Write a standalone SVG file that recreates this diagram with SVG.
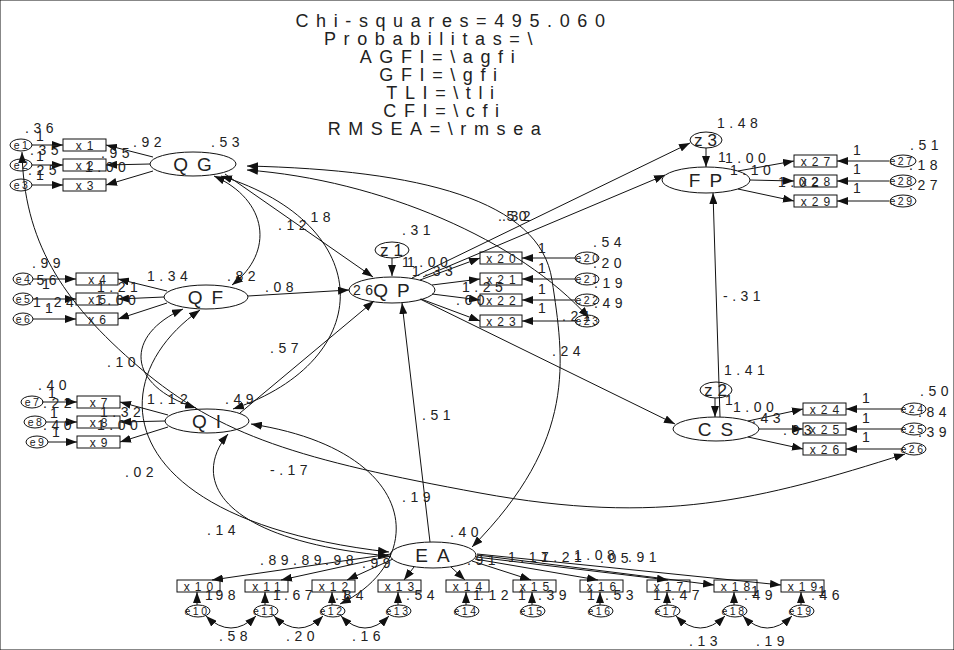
<svg xmlns="http://www.w3.org/2000/svg" width="954" height="650" viewBox="0 0 954 650">
<defs>
<marker id="ah" viewBox="0 0 11 8" refX="11" refY="4" markerWidth="11" markerHeight="8" markerUnits="userSpaceOnUse" orient="auto-start-reverse"><path d="M0,0 L11,4 L0,8 z" fill="#111"/></marker>
<style>
.ln{fill:none;stroke:#111;stroke-width:1}
.a{marker-end:url(#ah)}
.b{marker-start:url(#ah);marker-end:url(#ah)}
ellipse,rect{fill:none;stroke:#111;stroke-width:1}
text{font-family:"Liberation Sans",Arial,sans-serif;fill:#222}
.ti{font-size:18px;letter-spacing:7.6px;text-anchor:middle}
.lt{font-size:19px;letter-spacing:9px;text-anchor:middle}
.zt{font-size:17px;letter-spacing:5px;text-anchor:middle}
.ob{font-size:12px;letter-spacing:5px;text-anchor:middle}
.er{font-size:10.5px;letter-spacing:2.5px;text-anchor:middle}
.lb{font-size:14px;letter-spacing:4.5px}
</style>
</defs>
<rect x="0" y="0" width="954" height="650" fill="#fff" stroke="none"/>
<g id="title">
<text class="ti" x="454" y="27">Chi-squares=495.060</text>
<text class="ti" x="432" y="45">Probabilitas=\</text>
<text class="ti" x="441" y="63">AGFI=\agfi</text>
<text class="ti" x="442" y="81">GFI=\gfi</text>
<text class="ti" x="444" y="99">TLI=\tli</text>
<text class="ti" x="445" y="117">CFI=\cfi</text>
<text class="ti" x="438" y="135">RMSEA=\rmsea</text>
</g>
<g id="connectors" class="ln">
<path class="a" d="M32,145 L63,145"/><path class="a" d="M32,165 L63,165"/><path class="a" d="M32,185 L63,185"/>
<path class="a" d="M153,157 L106,145"/><path class="a" d="M150,164 L106,165"/><path class="a" d="M153,171 L106,185"/>
<path class="a" d="M33,279 L76,279"/><path class="a" d="M33,299 L76,299"/><path class="a" d="M33,319 L76,319"/>
<path class="a" d="M167,291 L118,279"/><path class="a" d="M164,297 L118,299"/><path class="a" d="M167,303 L118,319"/>
<path class="a" d="M42,402 L77,402"/><path class="a" d="M46,422 L77,422"/><path class="a" d="M48,442 L77,442"/>
<path class="a" d="M168,415 L120,402"/><path class="a" d="M165,421 L120,422"/><path class="a" d="M168,427 L120,442"/>
<path class="a" d="M420,280 L480,258"/><path class="a" d="M432,285 L480,279"/><path class="a" d="M432,294 L480,300"/><path class="a" d="M421,299 L480,321"/>
<path class="a" d="M575,258 L522,258"/><path class="a" d="M575,279 L522,279"/><path class="a" d="M575,300 L522,300"/><path class="a" d="M575,321 L522,321"/>
<path class="a" d="M392,258 L392,276"/>
<path class="a" d="M706,148 L706,167"/>
<path class="a" d="M738,171 L794,161"/><path class="a" d="M750,180 L794,181"/><path class="a" d="M738,189 L794,201"/>
<path class="a" d="M889,161 L837,161"/><path class="a" d="M889,181 L837,181"/><path class="a" d="M889,201 L837,201"/>
<path class="a" d="M715,398 L715,417"/>
<path class="a" d="M720,417 L713,193"/>
<path class="a" d="M748,421 L803,409"/><path class="a" d="M759,429 L803,429"/><path class="a" d="M748,437 L803,449"/>
<path class="a" d="M902,409 L846,409"/><path class="a" d="M902,429 L846,429"/><path class="a" d="M902,449 L846,449"/>
<path class="a" d="M225,174 L373,277"/>
<path class="a" d="M248,296 L349,290"/>
<path class="a" d="M240,413 L374,301"/>
<path class="a" d="M430,542 L402,303"/>
<path class="a" d="M420,299 L675,424"/>
<path class="a" d="M423,277 L665,175"/>
<path class="a" d="M412,278 L690,143"/>
<path class="a" d="M391,554 L212,580"/><path class="a" d="M391,556 L281,580"/><path class="a" d="M393,559 L347,580"/><path class="a" d="M414,567 L404,580"/>
<path class="a" d="M451,567 L465,580"/><path class="a" d="M472,561 L531,580"/><path class="a" d="M475,559 L598,580"/><path class="a" d="M476,557 L668,580"/>
<path class="a" d="M477,555 L714,585"/><path class="a" d="M477,554 L781,585"/>
<path class="a" d="M197,605 L197,592"/><path class="a" d="M265,605 L265,592"/><path class="a" d="M332,605 L332,592"/><path class="a" d="M398,605 L398,592"/><path class="a" d="M466,605 L466,592"/>
<path class="a" d="M532,605 L532,592"/><path class="a" d="M600,605 L600,592"/><path class="a" d="M667,605 L667,592"/><path class="a" d="M734,605 L734,592"/><path class="a" d="M801,605 L801,592"/>
<path class="b" d="M206,616 Q231,640 256,616"/><path class="b" d="M274,616 Q299,640 323,616"/><path class="b" d="M341,616 Q365,640 389,616"/>
<path class="b" d="M676,616 Q700,640 725,616"/><path class="b" d="M743,616 Q767,640 792,616"/>
<path class="b" d="M214,176 C268,200 275,252 232,285"/>
<path class="b" d="M221,176 C378,225 378,360 233,409"/>
<path class="b" d="M183,309 C125,335 125,385 196,408"/>
<path class="b" d="M200,310 C100,380 110,520 389,552"/>
<path class="b" d="M228,434 C190,480 220,540 389,556"/>
<path class="b" d="M251,424 C420,450 430,560 340,604"/>
<path class="b" d="M22,152 C24,240 60,300 140,368 S300,460 480,493 S760,500 905,454"/>
<path class="b" d="M247,170 C380,180 520,240 589,318"/>
<path class="b" d="M247,166 C420,170 540,200 552,280 S578,440 472,547"/>
</g>
<g id="QG"><ellipse cx="193" cy="164" rx="43" ry="12"/><text class="lt" x="197" y="171">QG</text></g>
<g id="QF"><ellipse cx="206" cy="297" rx="42" ry="12"/><text class="lt" x="210" y="304">QF</text></g>
<g id="QI"><ellipse cx="207" cy="421" rx="42" ry="12"/><text class="lt" x="211" y="428">QI</text></g>
<g id="QP"><ellipse cx="392" cy="290" rx="43" ry="13"/><text class="lt" x="396" y="297">QP</text></g>
<g id="FP"><ellipse cx="706" cy="180" rx="44" ry="13"/><text class="lt" x="710" y="187">FP</text></g>
<g id="CS"><ellipse cx="716" cy="429" rx="43" ry="12"/><text class="lt" x="720" y="436">CS</text></g>
<g id="EA"><ellipse cx="433" cy="555" rx="43" ry="13"/><text class="lt" x="437" y="562">EA</text></g>
<g id="z1"><ellipse cx="392" cy="250" rx="17" ry="8"/><text class="zt" x="394" y="256">z1</text></g>
<g id="z2"><ellipse cx="716" cy="390" rx="16" ry="8"/><text class="zt" x="718" y="396">z2</text></g>
<g id="z3"><ellipse cx="706" cy="140" rx="16" ry="8"/><text class="zt" x="708" y="146">z3</text></g>
<g id="x1"><rect x="63" y="139" width="43" height="12"/><text class="ob" x="87" y="149.5">x1</text></g>
<g id="x2"><rect x="63" y="159" width="43" height="12"/><text class="ob" x="87" y="169.5">x2</text></g>
<g id="x3"><rect x="63" y="179" width="43" height="12"/><text class="ob" x="87" y="189.5">x3</text></g>
<g id="x4"><rect x="76" y="273" width="42" height="12"/><text class="ob" x="99.5" y="283.5">x4</text></g>
<g id="x5"><rect x="76" y="293" width="42" height="12"/><text class="ob" x="99.5" y="303.5">x5</text></g>
<g id="x6"><rect x="76" y="313" width="42" height="12"/><text class="ob" x="99.5" y="323.5">x6</text></g>
<g id="x7"><rect x="77" y="396" width="43" height="12"/><text class="ob" x="101" y="406.5">x7</text></g>
<g id="x8"><rect x="77" y="416" width="43" height="12"/><text class="ob" x="101" y="426.5">x8</text></g>
<g id="x9"><rect x="77" y="436" width="43" height="12"/><text class="ob" x="101" y="446.5">x9</text></g>
<g id="x20"><rect x="480" y="252" width="42" height="12"/><text class="ob" x="503.5" y="262.5">x20</text></g>
<g id="x21"><rect x="480" y="273" width="42" height="12"/><text class="ob" x="503.5" y="283.5">x21</text></g>
<g id="x22"><rect x="480" y="294" width="42" height="12"/><text class="ob" x="503.5" y="304.5">x22</text></g>
<g id="x23"><rect x="480" y="315" width="42" height="12"/><text class="ob" x="503.5" y="325.5">x23</text></g>
<g id="x27"><rect x="794" y="155" width="43" height="12"/><text class="ob" x="818" y="165.5">x27</text></g>
<g id="x28"><rect x="794" y="175" width="43" height="12"/><text class="ob" x="818" y="185.5">x28</text></g>
<g id="x29"><rect x="794" y="195" width="43" height="12"/><text class="ob" x="818" y="205.5">x29</text></g>
<g id="x24"><rect x="803" y="403" width="43" height="12"/><text class="ob" x="827" y="413.5">x24</text></g>
<g id="x25"><rect x="803" y="423" width="43" height="12"/><text class="ob" x="827" y="433.5">x25</text></g>
<g id="x26"><rect x="803" y="443" width="43" height="12"/><text class="ob" x="827" y="453.5">x26</text></g>
<g id="x10"><rect x="177" y="580" width="43" height="12"/><text class="ob" x="201" y="590.5">x10</text></g>
<g id="x11"><rect x="245" y="580" width="43" height="12"/><text class="ob" x="269" y="590.5">x11</text></g>
<g id="x12"><rect x="312" y="580" width="43" height="12"/><text class="ob" x="336" y="590.5">x12</text></g>
<g id="x13"><rect x="378" y="580" width="43" height="12"/><text class="ob" x="402" y="590.5">x13</text></g>
<g id="x14"><rect x="446" y="580" width="43" height="12"/><text class="ob" x="470" y="590.5">x14</text></g>
<g id="x15"><rect x="513" y="580" width="43" height="12"/><text class="ob" x="537" y="590.5">x15</text></g>
<g id="x16"><rect x="580" y="580" width="43" height="12"/><text class="ob" x="604" y="590.5">x16</text></g>
<g id="x17"><rect x="647" y="580" width="43" height="12"/><text class="ob" x="671" y="590.5">x17</text></g>
<g id="x18"><rect x="714" y="580" width="43" height="12"/><text class="ob" x="738" y="590.5">x18</text></g>
<g id="x19"><rect x="781" y="580" width="43" height="12"/><text class="ob" x="805" y="590.5">x19</text></g>
<g id="e1"><ellipse cx="21" cy="145" rx="11" ry="6"/><text class="er" x="22" y="149">e1</text></g>
<g id="e2"><ellipse cx="21" cy="165" rx="11" ry="6"/><text class="er" x="22" y="169">e2</text></g>
<g id="e3"><ellipse cx="21" cy="185" rx="11" ry="6"/><text class="er" x="22" y="189">e3</text></g>
<g id="e4"><ellipse cx="23" cy="279" rx="10" ry="6"/><text class="er" x="24" y="283">e4</text></g>
<g id="e5"><ellipse cx="23" cy="299" rx="10" ry="6"/><text class="er" x="24" y="303">e5</text></g>
<g id="e6"><ellipse cx="23" cy="319" rx="10" ry="6"/><text class="er" x="24" y="323">e6</text></g>
<g id="e7"><ellipse cx="32" cy="402" rx="11" ry="6"/><text class="er" x="33" y="406">e7</text></g>
<g id="e8"><ellipse cx="35" cy="422" rx="11" ry="6"/><text class="er" x="36" y="426">e8</text></g>
<g id="e9"><ellipse cx="37" cy="442" rx="11" ry="6"/><text class="er" x="38" y="446">e9</text></g>
<g id="e20"><ellipse cx="587" cy="258" rx="12" ry="6"/><text class="er" x="588" y="262">e20</text></g>
<g id="e21"><ellipse cx="587" cy="279" rx="12" ry="6"/><text class="er" x="588" y="283">e21</text></g>
<g id="e22"><ellipse cx="587" cy="300" rx="12" ry="6"/><text class="er" x="588" y="304">e22</text></g>
<g id="e23"><ellipse cx="587" cy="321" rx="12" ry="6"/><text class="er" x="588" y="325">e23</text></g>
<g id="e27"><ellipse cx="903" cy="161" rx="13" ry="6"/><text class="er" x="902" y="165">e27</text></g>
<g id="e28"><ellipse cx="903" cy="181" rx="13" ry="6"/><text class="er" x="902" y="185">e28</text></g>
<g id="e29"><ellipse cx="903" cy="201" rx="13" ry="6"/><text class="er" x="902" y="205">e29</text></g>
<g id="e24"><ellipse cx="914" cy="409" rx="12" ry="6"/><text class="er" x="913" y="413">e24</text></g>
<g id="e25"><ellipse cx="914" cy="429" rx="12" ry="6"/><text class="er" x="913" y="433">e25</text></g>
<g id="e26"><ellipse cx="914" cy="449" rx="12" ry="6"/><text class="er" x="913" y="453">e26</text></g>
<g id="e10"><ellipse cx="198" cy="611" rx="12" ry="6"/><text class="er" x="197" y="615">e10</text></g>
<g id="e11"><ellipse cx="266" cy="611" rx="12" ry="6"/><text class="er" x="265" y="615">e11</text></g>
<g id="e12"><ellipse cx="333" cy="611" rx="12" ry="6"/><text class="er" x="332" y="615">e12</text></g>
<g id="e13"><ellipse cx="399" cy="611" rx="12" ry="6"/><text class="er" x="398" y="615">e13</text></g>
<g id="e14"><ellipse cx="467" cy="611" rx="12" ry="6"/><text class="er" x="466" y="615">e14</text></g>
<g id="e15"><ellipse cx="533" cy="611" rx="12" ry="6"/><text class="er" x="532" y="615">e15</text></g>
<g id="e16"><ellipse cx="601" cy="611" rx="12" ry="6"/><text class="er" x="600" y="615">e16</text></g>
<g id="e17"><ellipse cx="668" cy="611" rx="12" ry="6"/><text class="er" x="667" y="615">e17</text></g>
<g id="e18"><ellipse cx="735" cy="611" rx="12" ry="6"/><text class="er" x="734" y="615">e18</text></g>
<g id="e19"><ellipse cx="802" cy="611" rx="12" ry="6"/><text class="er" x="801" y="615">e19</text></g>
<g id="labels" class="lb">
<text x="25" y="133">.36</text><text x="36" y="141">1</text><text x="30" y="155">.35</text><text x="36" y="161">1</text><text x="28" y="175">.25</text><text x="36" y="180">1</text>
<text x="133" y="147">.92</text><text x="101" y="158">.95</text><text x="85" y="172">1.00</text><text x="211" y="147">.53</text>
<text x="32" y="268">.99</text><text x="28" y="285">.56</text><text x="42" y="289">1</text><text x="33" y="307">1.24</text><text x="45" y="313">1</text>
<text x="147" y="281">1.34</text><text x="97" y="292">1.21</text><text x="95" y="305">1.00</text><text x="227" y="281">.82</text>
<text x="38" y="390">.40</text><text x="48" y="398">1</text><text x="43" y="408">.22</text><text x="50" y="418">1</text><text x="43" y="430">.40</text><text x="52" y="437">1</text>
<text x="147" y="404">1.12</text><text x="100" y="417">1.32</text><text x="97" y="430">1.00</text><text x="225" y="404">.49</text>
<text x="402" y="235">.31</text><text x="402" y="267">1</text><text x="407" y="267">1.00</text><text x="412" y="276">1.33</text><text x="462" y="292">1.25</text><text x="456" y="305">.60</text><text x="353" y="295">26</text>
<text x="498" y="221">.50</text><text x="502" y="221">.32</text>
<text x="593" y="247">.54</text><text x="593" y="268">.20</text><text x="594" y="288">.19</text><text x="594" y="308">.49</text><text x="562" y="321">.21</text>
<text x="538" y="253">1</text><text x="538" y="273">1</text><text x="538" y="294">1</text><text x="538" y="313">1</text>
<text x="717" y="128">1.48</text><text x="718" y="162">1</text><text x="725" y="163">1.00</text><text x="730" y="175">1.10</text><text x="778" y="187">1.02</text>
<text x="853" y="155">1</text><text x="853" y="174">1</text><text x="853" y="193">1</text>
<text x="910" y="150">.51</text><text x="909" y="170">.18</text><text x="909" y="190">.27</text>
<text x="724" y="375">1.41</text><text x="725" y="405">1</text><text x="733" y="412">1.00</text><text x="752" y="423">.43</text><text x="783" y="435">.03</text>
<text x="862" y="403">1</text><text x="862" y="423">1</text><text x="862" y="442">1</text>
<text x="920" y="396">.50</text><text x="918" y="417">.84</text><text x="918" y="437">.39</text>
<text x="265" y="292">.08</text><text x="270" y="353">.57</text><text x="107" y="367">.10</text><text x="278" y="230">.12</text><text x="302" y="222">.18</text>
<text x="125" y="477">.02</text><text x="270" y="475">-.17</text><text x="207" y="535">.14</text><text x="402" y="502">.19</text><text x="422" y="420">.51</text>
<text x="450" y="537">.40</text><text x="552" y="356">.24</text><text x="723" y="301">-.31</text>
<text x="260" y="565">.89</text><text x="293" y="565">.89</text><text x="325" y="565">.98</text><text x="362" y="568">.99</text>
<text x="467" y="565">.91</text><text x="508" y="562">1.17</text><text x="541" y="562">1.21</text><text x="574" y="560">1.08</text><text x="600" y="563">.05</text><text x="628" y="562">.91</text>
<text x="205" y="600">1</text><text x="207" y="600">.98</text><text x="273" y="600">1</text><text x="284" y="600">.67</text><text x="335" y="600">.84</text><text x="341" y="600">1</text>
<text x="406" y="600">.54</text><text x="473" y="600">1</text><text x="480" y="600">.12</text><text x="518" y="600">1</text><text x="538" y="600">.39</text>
<text x="587" y="600">1</text><text x="605" y="600">.53</text><text x="653" y="600">1</text><text x="671" y="600">.47</text>
<text x="744" y="600">.49</text><text x="751" y="596">1</text><text x="811" y="600">.46</text><text x="818" y="596">1</text>
<text x="219" y="641">.58</text><text x="286" y="641">.20</text><text x="352" y="641">.16</text><text x="689" y="646">.13</text><text x="756" y="646">.19</text>
</g>
</svg>
